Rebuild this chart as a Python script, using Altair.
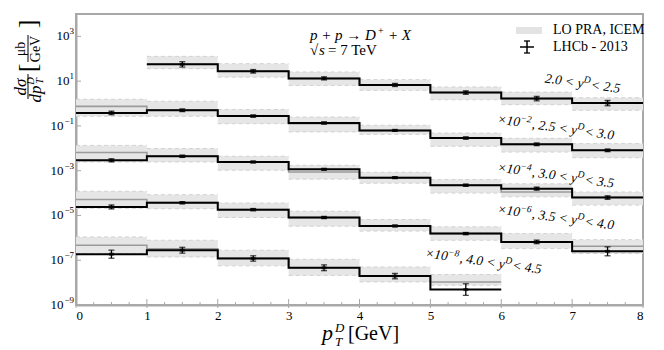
import altair as alt
import pandas as pd

# ---- data -------------------------------------------------------------------
bin_lo = [0, 1, 2, 3, 4, 5, 6, 7]
bin_hi = [1, 2, 3, 4, 5, 6, 7, 8]

series_names = ["s1", "s2", "s3", "s4", "s5"]
first_bin = [1, 0, 0, 0, 0]

# LHCb 2013 data (already scaled by x10^-2k as plotted)
data_s1 = [56.2, 27.5, 13.3, 6.76, 3.09, 1.66, 1.05]
data_s2 = [0.38, 0.50, 0.275, 0.135, 0.063, 0.0288, 0.0151, 0.0081]
data_s3 = [2.9e-3, 4.4e-3, 2.45e-3, 1.15e-3, 4.9e-4, 2.24e-4, 1.58e-4, 6.3e-5]
data_s4 = [2.4e-5, 3.7e-5, 1.82e-5, 8.1e-6, 3.4e-6, 1.55e-6, 6.6e-7, 2.5e-7]
data_s5 = [1.86e-7, 2.8e-7, 1.2e-7, 4.6e-8, 1.95e-8, 4.9e-9]

# error half-widths in decades
err_s1 = [0.12, 0.08, 0.07, 0.07, 0.08, 0.10, 0.12]
err_s2 = [0.08, 0.06, 0.05, 0.05, 0.04, 0.05, 0.06, 0.06]
err_s3 = [0.07, 0.05, 0.04, 0.04, 0.04, 0.05, 0.07, 0.08]
err_s4 = [0.09, 0.05, 0.05, 0.05, 0.04, 0.05, 0.08, 0.20]
err_s5 = [0.18, 0.13, 0.12, 0.13, 0.12, 0.26]

# LO PRA, ICEM central prediction
theo_s1 = [57.0, 27.5, 13.3, 6.8, 3.1, 1.66, 1.05]
theo_s2 = [0.75, 0.52, 0.28, 0.125, 0.062, 0.029, 0.015, 0.0082]
theo_s3 = [6.5e-3, 4.5e-3, 2.5e-3, 8.7e-4, 4.9e-4, 2.3e-4, 1.12e-4, 6.5e-5]
theo_s4 = [5.2e-5, 3.8e-5, 1.85e-5, 8.0e-6, 3.4e-6, 1.55e-6, 6.6e-7, 4.2e-7]
theo_s5 = [4.7e-7, 3.2e-7, 1.25e-7, 4.6e-8, 2.0e-8, 1.07e-8]

# uncertainty band
band_hi_s1 = [128, 60.3, 25.7, 11.7, 5.5, 3.24, 1.82]
band_lo_s1 = [36.1, 15.1, 6.46, 3.89, 1.48, 0.89, 0.50]
band_hi_s2 = [1.55, 1.26, 0.54, 0.25, 0.107, 0.048, 0.028, 0.0162]
band_lo_s2 = [0.27, 0.27, 0.126, 0.054, 0.042, 0.0123, 0.0068, 0.0038]
band_hi_s3 = [1.35e-2, 9.8e-3, 4.4e-3, 1.74e-3, 8.5e-4, 4.0e-4, 2.6e-4, 1.12e-4]
band_lo_s3 = [2.45e-3, 2.45e-3, 1.05e-3, 4.2e-4, 2.75e-4, 1.0e-4, 6.8e-5, 2.9e-5]
band_hi_s4 = [1.2e-4, 8.5e-5, 3.6e-5, 1.55e-5, 6.6e-6, 3.1e-6, 1.55e-6, 8.3e-7]
band_lo_s4 = [2.1e-5, 2.0e-5, 8.1e-6, 3.3e-6, 2.0e-6, 7.8e-7, 3.3e-7, 2.0e-7]
band_hi_s5 = [1.1e-6, 7.8e-7, 2.8e-7, 1.1e-7, 5.0e-8, 2.3e-8]
band_lo_s5 = [2.0e-7, 1.4e-7, 5.6e-8, 2.1e-8, 1.07e-8, 7.6e-9]

# rapidity-bin labels: (text, is_superscript) parts, anchored at label start
label_parts = [
    [("2.0 < y", 0), ("D", 1), (" < 2.5", 0)],
    [("×10", 0), ("−2", 1), (", 2.5 < y", 0), ("D", 1), (" < 3.0", 0)],
    [("×10", 0), ("−4", 1), (", 3.0 < y", 0), ("D", 1), (" < 3.5", 0)],
    [("×10", 0), ("−6", 1), (", 3.5 < y", 0), ("D", 1), (" < 4.0", 0)],
    [("×10", 0), ("−8", 1), (", 4.0 < y", 0), ("D", 1), (" < 4.5", 0)],
]
label_x = [6.61, 5.94, 5.94, 5.94, 4.92]
label_y = [8.8, 0.13, 9.3e-4, 1.26e-5, 1.35e-7]

x_ticks_major = [0, 1, 2, 3, 4, 5, 6, 7, 8]
x_ticks_minor = [0.25, 0.5, 0.75, 1.25, 1.5, 1.75, 2.25, 2.5, 2.75, 3.25, 3.5, 3.75,
                 4.25, 4.5, 4.75, 5.25, 5.5, 5.75, 6.25, 6.5, 6.75, 7.25, 7.5, 7.75]
y_ticks_pos = [1e1, 1e3]
y_exp_pos = ["1", "3"]
y_ticks_neg = [1e-9, 1e-7, 1e-5, 1e-3, 1e-1]
y_exp_neg = ["−9", "−7", "−5", "−3", "−1"]

# ---- tables -------------------------------------------------------------------
data_all = [data_s1, data_s2, data_s3, data_s4, data_s5]
err_all = [err_s1, err_s2, err_s3, err_s4, err_s5]
theo_all = [theo_s1, theo_s2, theo_s3, theo_s4, theo_s5]
bhi_all = [band_hi_s1, band_hi_s2, band_hi_s3, band_hi_s4, band_hi_s5]
blo_all = [band_lo_s1, band_lo_s2, band_lo_s3, band_lo_s4, band_lo_s5]

bins_rows, step_rows = [], []
for s, name in enumerate(series_names):
    f = first_bin[s]
    n = len(data_all[s])
    for i in range(n):
        k = f + i
        d = data_all[s][i]
        e = 10 ** err_all[s][i]
        bins_rows.append(dict(series=name, lo=bin_lo[k], hi=bin_hi[k], mid=(bin_lo[k] + bin_hi[k]) / 2,
                              data=d, elo=d / e, ehi=d * e, theo=theo_all[s][i],
                              blo=blo_all[s][i], bhi=bhi_all[s][i]))
        step_rows.append(dict(series=name, x=bin_lo[k], data=d, theo=theo_all[s][i]))
    k = f + n - 1
    step_rows.append(dict(series=name, x=bin_hi[k], data=data_all[s][-1], theo=theo_all[s][-1]))

bins = pd.DataFrame(bins_rows)
steps = pd.DataFrame(step_rows)

SERIF = "Liberation Serif"
xs = alt.Scale(domain=[0, 8], nice=False, zero=False)
ys = alt.Scale(type="log", domain=[1e-9, 1e4], nice=False)

x_axis = alt.Axis(values=x_ticks_major, ticks=False, grid=False, title=None, labelFont=SERIF,
                  labelFontSize=13, labelColor="#000", domainColor="#a8a8a8", domainWidth=2,
                  labelPadding=4, format="d")
y_axis = alt.Axis(values=y_ticks_neg + y_ticks_pos, ticks=False, grid=False, title=None,
                  labels=False, domainColor="#a8a8a8", domainWidth=2)

base = alt.Chart(bins)

band = base.mark_rect(color="#e6e6e6").encode(
    x=alt.X("lo:Q", scale=xs, axis=x_axis), x2="hi:Q",
    y=alt.Y("blo:Q", scale=ys, axis=y_axis), y2="bhi:Q")
band_top = base.mark_rule(color="#d2d2d2", strokeDash=[4, 3], strokeWidth=1).encode(
    x=alt.X("lo:Q", scale=xs), x2="hi:Q", y=alt.Y("bhi:Q", scale=ys))
band_bot = base.mark_rule(color="#d2d2d2", strokeDash=[4, 3], strokeWidth=1).encode(
    x=alt.X("lo:Q", scale=xs), x2="hi:Q", y=alt.Y("blo:Q", scale=ys))

theo_line = alt.Chart(steps).mark_line(interpolate="step-after", color="#9a9a9a", strokeWidth=1.6).encode(
    x=alt.X("x:Q", scale=xs), y=alt.Y("theo:Q", scale=ys), detail="series:N", order="x:Q")
data_line = alt.Chart(steps).mark_line(interpolate="step-after", color="#000", strokeWidth=2).encode(
    x=alt.X("x:Q", scale=xs), y=alt.Y("data:Q", scale=ys), detail="series:N", order="x:Q")

ebar = base.mark_rule(color="#000", strokeWidth=1.3).encode(
    x=alt.X("mid:Q", scale=xs), y=alt.Y("elo:Q", scale=ys), y2="ehi:Q")
cap_lo = base.mark_tick(color="#000", orient="horizontal", size=6, thickness=1.3).encode(
    x=alt.X("mid:Q", scale=xs), y=alt.Y("elo:Q", scale=ys))
cap_hi = base.mark_tick(color="#000", orient="horizontal", size=6, thickness=1.3).encode(
    x=alt.X("mid:Q", scale=xs), y=alt.Y("ehi:Q", scale=ys))
center = base.mark_tick(color="#000", orient="horizontal", size=5, thickness=3).encode(
    x=alt.X("mid:Q", scale=xs), y=alt.Y("data:Q", scale=ys))

# ---- rotated rapidity labels built from parts (Times-metric widths) ----------
W = {c: 500 for c in "0123456789"}
W.update({".": 250, ",": 250, " ": 250, "<": 675, "×": 675, "−": 675, "y": 444, "D": 722})
LBL_SIZE, SUP_SIZE = 13.5, 9.5

def tw(s, size):
    return sum(W.get(c, 500) for c in s) * size / 1000.0

label_layers = []
for i, parts in enumerate(label_parts):
    anchor = pd.DataFrame(dict(x=[label_x[i]], y=[label_y[i]]))
    off = 0.0
    for text, sup in parts:
        size = SUP_SIZE if sup else LBL_SIZE
        label_layers.append(
            alt.Chart(anchor).mark_text(font=SERIF, fontStyle="italic", fontSize=size, angle=8,
                                        align="left", baseline="alphabetic", color="#000",
                                        dx=off, dy=-5.5 if sup else 0, text=text).encode(
                x=alt.X("x:Q", scale=xs), y=alt.Y("y:Q", scale=ys)))
        off += tw(text, size) + (1.0 if sup else 0.0)

# ---- y tick labels 10^n --------------------------------------------------------
def ylabels(vals, exps, base_x):
    df = pd.DataFrame(dict(v=vals, e=exps))
    ten = alt.Chart(df).mark_text(font=SERIF, fontSize=13, align="right", baseline="middle",
                                  color="#000", text="10").encode(
        y=alt.Y("v:Q", scale=ys), x=alt.value(base_x))
    ex = alt.Chart(df).mark_text(font=SERIF, fontSize=9, align="right", baseline="middle",
                                 color="#000", dy=-5).encode(
        y=alt.Y("v:Q", scale=ys), x=alt.value(-2), text="e:N")
    return [ten, ex]

ylab_layers = ylabels(y_ticks_pos, y_exp_pos, -6.5) + ylabels(y_ticks_neg, y_exp_neg, -12.5)

# inward ticks
xt_major = alt.Chart(pd.DataFrame(dict(v=x_ticks_major))).mark_rule(color="#a8a8a8", strokeWidth=1).encode(
    x=alt.X("v:Q", scale=xs), y=alt.value(285), y2=alt.value(294))
xt_minor = alt.Chart(pd.DataFrame(dict(v=x_ticks_minor))).mark_rule(color="#a8a8a8", strokeWidth=1).encode(
    x=alt.X("v:Q", scale=xs), y=alt.value(288), y2=alt.value(291))
yt = alt.Chart(pd.DataFrame(dict(v=y_ticks_neg + y_ticks_pos))).mark_rule(color="#a8a8a8", strokeWidth=1).encode(
    y=alt.Y("v:Q", scale=ys), x=alt.value(0), x2=alt.value(5))

# annotations (pixel positions inside the chart frame)
def txt(t, x, y, size=14, style="normal", align="left", baseline="alphabetic", angle=0):
    kw = dict(font=SERIF, fontSize=size, fontStyle=style, align=align, baseline=baseline, color="#000")
    if angle:
        kw["angle"] = angle
    return alt.Chart(pd.DataFrame(dict(t=[t]))).mark_text(**kw).encode(
        text="t:N", x=alt.value(x), y=alt.value(y))

def rule(x1, y1, x2, y2, color="#000", w=1.2):
    return alt.Chart(pd.DataFrame(dict(a=[0]))).mark_rule(color=color, strokeWidth=w).encode(
        x=alt.value(x1), x2=alt.value(x2), y=alt.value(y1), y2=alt.value(y2))

process = [txt("p + p → D", 234, 26, size=15, style="italic"),
           txt("+", 302, 20, size=10),
           txt("+ X", 312, 26, size=15, style="italic")]
energy = [txt("√", 234, 41, size=15), txt("s", 243, 41, size=15, style="italic"),
          txt("= 7 TeV", 252, 41, size=15)]

leg_box = alt.Chart(pd.DataFrame(dict(a=[0]))).mark_rect(color="#e3e3e3").encode(
    x=alt.value(440), x2=alt.value(466), y=alt.value(13), y2=alt.value(20))
leg = [leg_box,
       txt("LO PRA, ICEM", 477, 16, size=14, baseline="middle"),
       txt("LHCb - 2013", 477, 33, size=14, baseline="middle"),
       rule(444, 33, 458, 33, w=1.5), rule(451, 27, 451, 39, w=1.5),
       rule(448, 27, 454, 27, w=1.3), rule(448, 39, 454, 39, w=1.3)]

# x title  p_T^D [GeV]
xtitle = [txt("p", 246, 326, size=22, style="italic"),
          txt("D", 259, 318, size=13, style="italic"),
          txt("T", 259, 332, size=13, style="italic"),
          txt("[GeV]", 272, 326, size=20)]

# y title  dσ/dp_T^D [μb/GeV] rotated
ytitle = [txt("dσ", -55, 73, size=17, style="italic", align="center", baseline="middle", angle=270),
          rule(-48, 60, -48, 85, w=1),
          txt("dp", -40, 80, size=17, style="italic", align="center", baseline="middle", angle=270),
          txt("D", -45, 67, size=10.5, style="italic", align="center", baseline="middle", angle=270),
          txt("T", -36, 67, size=10.5, style="italic", align="center", baseline="middle", angle=270),
          txt("[", -48, 54, size=26, align="center", baseline="middle", angle=270),
          txt("μb", -55, 35, size=14, align="center", baseline="middle", angle=270),
          rule(-48, 21, -48, 48, w=1),
          txt("GeV", -40, 35, size=14, align="center", baseline="middle", angle=270),
          txt("]", -48, 10, size=26, align="center", baseline="middle", angle=270)]

chart = alt.layer(
    band, band_top, band_bot, theo_line, data_line, ebar, cap_lo, cap_hi, center,
    xt_major, xt_minor, yt,
    *label_layers, *ylab_layers, *process, *energy, *leg, *xtitle, *ytitle,
).properties(
    width=567, height=291,
    padding={"left": 68, "top": 6, "right": 13, "bottom": 43},
    autosize="none",
    background="white",
).configure_view(stroke="#a8a8a8", strokeWidth=2)

chart.save("out.html", embed_options={"renderer": "svg", "actions": False})
